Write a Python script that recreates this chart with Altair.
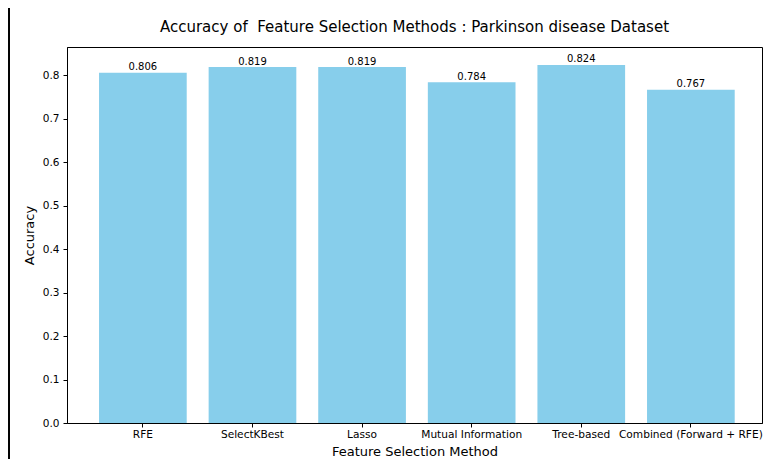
import altair as alt
import pandas as pd

methods = ["RFE", "SelectKBest", "Lasso", "Mutual Information", "Tree-based", "Combined (Forward + RFE)"]
accuracy = [0.806, 0.819, 0.819, 0.784, 0.824, 0.767]
labels = ["0.806", "0.819", "0.819", "0.784", "0.824", "0.767"]
y_ticks = [0.0, 0.1, 0.2, 0.3, 0.4, 0.5, 0.6, 0.7, 0.8]

df = pd.DataFrame({"method": methods, "accuracy": accuracy, "label": labels})

FONT = "DejaVu Sans"
TITLE = "Accuracy of \u00a0Feature Selection Methods : Parkinson disease Dataset"

x_enc = alt.X(
    "method:N",
    sort=methods,
    title="Feature Selection Method",
    scale=alt.Scale(paddingInner=0.2, paddingOuter=0.2707, align=0.54),
    axis=alt.Axis(labelAngle=0, labelFontSize=10.6, labelPadding=2, tickSize=4,
                  titleFontSize=13, titlePadding=6, titleFontWeight="normal",
                  labelFont=FONT, titleFont=FONT, domainColor="black", tickColor="black",
                  labelColor="black", titleColor="black"),
)
y_enc = alt.Y(
    "accuracy:Q",
    title="Accuracy",
    scale=alt.Scale(domain=[0, 0.8652], nice=False, zero=True),
    axis=alt.Axis(values=y_ticks, format=".1f", labelFontSize=10.5, labelPadding=4, tickSize=4,
                  titleFontSize=13, titlePadding=6, titleFontWeight="normal", grid=False,
                  labelFont=FONT, titleFont=FONT, domainColor="black", tickColor="black",
                  labelColor="black", titleColor="black"),
)

bars = alt.Chart(df).mark_bar(color="#87CEEB").encode(x=x_enc, y=y_enc)
text = alt.Chart(df).mark_text(baseline="alphabetic", dy=-2.5, fontSize=10, font=FONT, color="black").encode(
    x=alt.X("method:N", sort=methods), y=alt.Y("accuracy:Q"), text="label:N"
)
frame = alt.Chart(df).mark_rule(color="black", strokeWidth=1).encode(
    x=alt.value(-58), y=alt.value(-39), y2=alt.value(412)
)

chart = alt.layer(bars, text, frame).properties(
    width=695,
    height=376,
    title=alt.TitleParams(
        TITLE,
        fontSize=15, fontWeight="normal", font=FONT, anchor="middle", offset=-27,
        color="black", frame="group",
    ),
    autosize=alt.AutoSizeParams(type="none"),
    padding={"left": 59, "top": 39, "right": 1, "bottom": 36},
    background="white",
).configure_view(
    stroke="black", strokeWidth=1
)

chart.save("out.html", embed_options={"renderer": "svg", "actions": False})
